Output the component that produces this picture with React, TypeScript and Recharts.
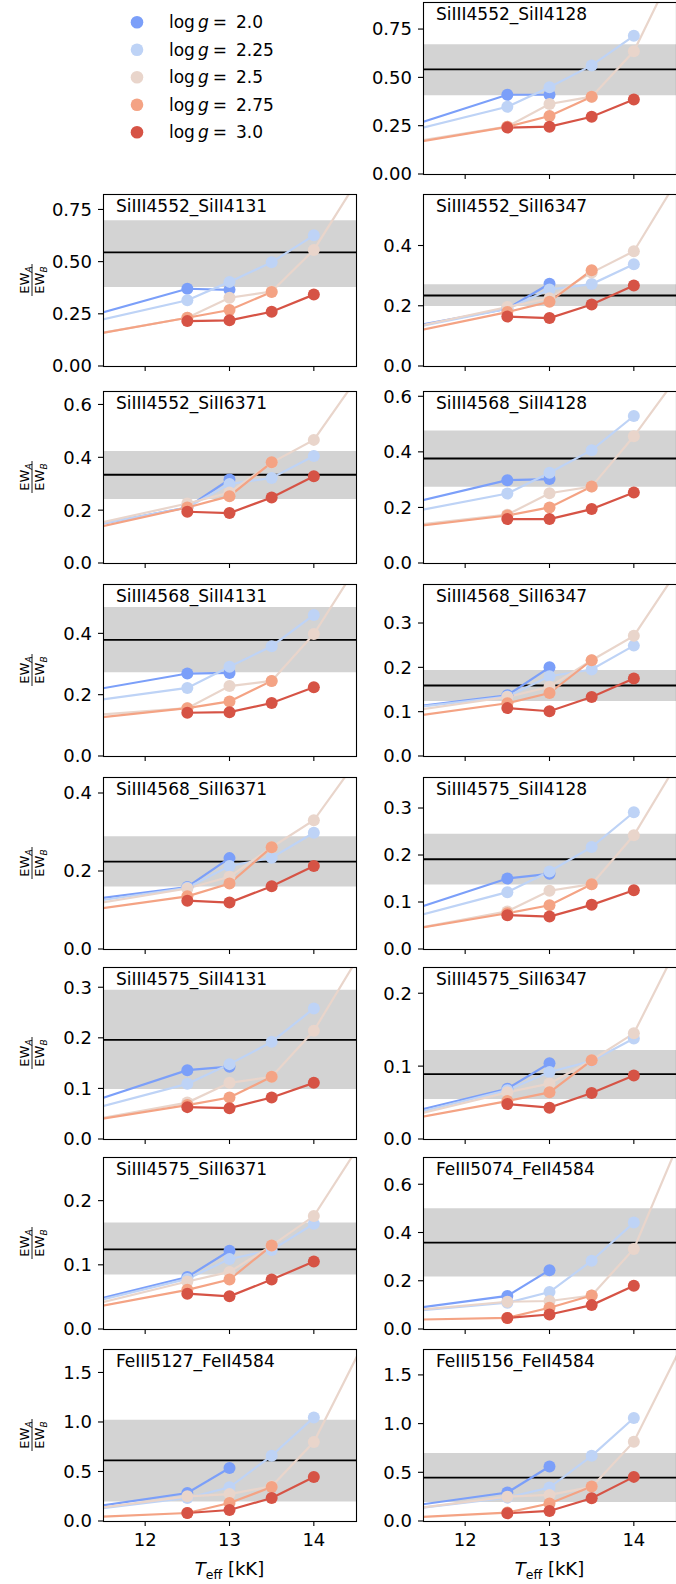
import React from 'react';
import { LineChart, Line, XAxis, YAxis, ReferenceArea, ReferenceLine } from 'recharts';

// line-ratio pairs, one panel each
const PAIRS = [
  'SiIII4552_SiII4128', 'SiIII4552_SiII4131', 'SiIII4552_SiII6347',
  'SiIII4552_SiII6371', 'SiIII4568_SiII4128', 'SiIII4568_SiII4131',
  'SiIII4568_SiII6347', 'SiIII4568_SiII6371', 'SiIII4575_SiII4128',
  'SiIII4575_SiII4131', 'SiIII4575_SiII6347', 'SiIII4575_SiII6371',
  'FeIII5074_FeII4584', 'FeIII5127_FeII4584', 'FeIII5156_FeII4584',
];

// observed ratio and its uncertainty band
const OBSERVED = [0.541, 0.544, 0.234, 0.334, 0.376, 0.379, 0.159, 0.224, 0.191, 0.196, 0.089, 0.124, 0.358, 0.612, 0.446];
const OBS_LOW = [0.407, 0.379, 0.199, 0.242, 0.274, 0.273, 0.124, 0.16, 0.137, 0.099, 0.055, 0.085, 0.218, 0.198, 0.196];
const OBS_HIGH = [0.672, 0.698, 0.271, 0.424, 0.477, 0.486, 0.194, 0.289, 0.245, 0.295, 0.122, 0.166, 0.501, 1.023, 0.697];

const Y_MAX = [0.89, 0.824, 0.571, 0.651, 0.619, 0.561, 0.388, 0.441, 0.366, 0.34, 0.236, 0.268, 0.713, 1.737, 1.766];
const Y_TICKS = [
  [0, 0.25, 0.5, 0.75], [0, 0.25, 0.5, 0.75], [0, 0.2, 0.4], [0, 0.2, 0.4, 0.6], [0, 0.2, 0.4, 0.6],
  [0, 0.2, 0.4], [0, 0.1, 0.2, 0.3], [0, 0.2, 0.4], [0, 0.1, 0.2, 0.3], [0, 0.1, 0.2, 0.3],
  [0, 0.1, 0.2], [0, 0.1, 0.2], [0, 0.2, 0.4, 0.6], [0, 0.5, 1, 1.5], [0, 0.5, 1, 1.5],
];
const X_TICKS = [12, 13, 14];

// model grid temperatures (kK) per log g
const T_20 = [11, 12.5, 13];
const T_225 = [11, 12.5, 13, 13.5, 14];
const T_25 = [11, 12.5, 13, 13.5, 14, 15];
const T_275 = [11, 12.5, 13, 13.5];
const T_30 = [12.5, 13, 13.5, 14];

// model ratios, one row per panel
const LOGG_20 = [
  [0.2, 0.41, 0.41], [0.2, 0.37, 0.365], [0.112, 0.19, 0.273], [0.12, 0.21, 0.316], [0.19, 0.298, 0.302],
  [0.197, 0.269, 0.271], [0.102, 0.137, 0.2], [0.117, 0.159, 0.233], [0.062, 0.15, 0.16], [0.054, 0.136, 0.143],
  [0.027, 0.069, 0.104], [0.032, 0.081, 0.122], [0.068, 0.137, 0.244], [0.096, 0.283, 0.535], [0.112, 0.292, 0.56],
];
const LOGG_225 = [
  [0.186, 0.348, 0.449, 0.562, 0.715], [0.177, 0.315, 0.403, 0.497, 0.626], [0.106, 0.19, 0.254, 0.272, 0.338],
  [0.12, 0.21, 0.299, 0.322, 0.405], [0.163, 0.25, 0.325, 0.406, 0.529], [0.166, 0.222, 0.291, 0.358, 0.46],
  [0.101, 0.134, 0.18, 0.195, 0.249], [0.11, 0.157, 0.213, 0.234, 0.298], [0.05, 0.121, 0.165, 0.217, 0.291],
  [0.043, 0.109, 0.148, 0.192, 0.258], [0.024, 0.067, 0.092, 0.107, 0.138], [0.03, 0.078, 0.109, 0.123, 0.164],
  [0.063, 0.109, 0.153, 0.283, 0.441], [0.08, 0.232, 0.34, 0.659, 1.046], [0.085, 0.24, 0.343, 0.669, 1.057],
];
const LOGG_25 = [
  [0.14, 0.245, 0.362, 0.4, 0.635, 1.53], [0.125, 0.231, 0.327, 0.357, 0.556, 1.2], [0.106, 0.196, 0.225, 0.31, 0.381, 0.84],
  [0.12, 0.225, 0.267, 0.38, 0.466, 0.92], [0.123, 0.174, 0.251, 0.275, 0.456, 0.87], [0.126, 0.156, 0.228, 0.245, 0.398, 0.83],
  [0.092, 0.133, 0.156, 0.216, 0.271, 0.556], [0.102, 0.155, 0.185, 0.261, 0.33, 0.63], [0.03, 0.08, 0.124, 0.138, 0.242, 0.54],
  [0.027, 0.072, 0.111, 0.123, 0.214, 0.49], [0.022, 0.064, 0.076, 0.108, 0.145, 0.375], [0.026, 0.074, 0.089, 0.13, 0.176, 0.38],
  [0.065, 0.113, 0.116, 0.139, 0.332, 1.16], [0.083, 0.249, 0.272, 0.35, 0.797, 2.49], [0.085, 0.25, 0.268, 0.35, 0.814, 2.55],
];
const LOGG_275 = [
  [0.134, 0.244, 0.3, 0.4], [0.122, 0.231, 0.268, 0.355], [0.092, 0.179, 0.213, 0.318], [0.104, 0.21, 0.253, 0.381],
  [0.118, 0.171, 0.2, 0.275], [0.112, 0.156, 0.178, 0.245], [0.08, 0.119, 0.142, 0.216], [0.09, 0.135, 0.168, 0.261],
  [0.031, 0.076, 0.093, 0.138], [0.027, 0.067, 0.082, 0.123], [0.02, 0.052, 0.064, 0.108], [0.024, 0.061, 0.077, 0.13],
  [0.036, 0.046, 0.088, 0.139], [0.026, 0.081, 0.182, 0.343], [0.02, 0.086, 0.179, 0.354],
];
const LOGG_30 = [
  [0.24, 0.245, 0.296, 0.386], [0.215, 0.219, 0.26, 0.342], [0.164, 0.159, 0.204, 0.267], [0.194, 0.189, 0.248, 0.328],
  [0.158, 0.158, 0.194, 0.254], [0.141, 0.143, 0.173, 0.224], [0.108, 0.101, 0.133, 0.175], [0.124, 0.119, 0.161, 0.213],
  [0.072, 0.069, 0.094, 0.125], [0.063, 0.061, 0.082, 0.111], [0.048, 0.043, 0.063, 0.087], [0.055, 0.051, 0.077, 0.105],
  [0.046, 0.06, 0.099, 0.179], [0.081, 0.111, 0.232, 0.444], [0.079, 0.103, 0.233, 0.453],
];

const LOGG_LABELS = ['2.0', '2.25', '2.5', '2.75', '3.0'];
const COLORS = ['#7b9ff9', '#bed3f6', '#e9d5cb', '#f4a384', '#d65345'];

const SERIES = [
  { temps: T_20, values: LOGG_20 },
  { temps: T_225, values: LOGG_225 },
  { temps: T_25, values: LOGG_25 },
  { temps: T_275, values: LOGG_275 },
  { temps: T_30, values: LOGG_30 },
];

// layout
const FONT = 'DejaVu Sans';
const COL_LEFT = [103, 423];
const ROW_TOP = [2, 194, 391, 584, 777, 967, 1157, 1349];
const PLOT_W = 253;
const PLOT_H = 172;
const AXIS_W = 70;

const place = (idx: number) => {
  const row = Math.floor((idx + 1) / 2);
  const col = (idx + 1) % 2;
  return { row, col, left: COL_LEFT[col], top: ROW_TOP[row] };
};

function Panel({ idx }: { idx: number }) {
  const { row, left, top } = place(idx);
  const bottomRow = row === ROW_TOP.length - 1;
  const dec = idx < 2 ? 2 : 1;
  return (
    <div style={{ position: 'absolute', left: left - AXIS_W, top: top - 10 }}>
      <LineChart
        width={AXIS_W + PLOT_W + 10}
        height={10 + PLOT_H + 40}
        margin={{ top: 10, right: 10, bottom: 0, left: 0 }}
      >
        <XAxis
          type="number"
          dataKey="t"
          domain={[11.5, 14.5]}
          allowDataOverflow
          ticks={X_TICKS}
          height={40}
          axisLine={false}
          tickSize={5}
          tickMargin={7}
          tickLine={{ stroke: '#000', strokeWidth: 1.1 }}
          tick={{ fill: '#000', fontSize: 18, fontFamily: FONT }}
          tickFormatter={(v: number) => (bottomRow ? String(v) : '')}
        />
        <YAxis
          type="number"
          domain={[0, Y_MAX[idx]]}
          allowDataOverflow
          ticks={Y_TICKS[idx]}
          width={AXIS_W}
          axisLine={false}
          tickSize={5}
          tickMargin={6}
          tickLine={{ stroke: '#000', strokeWidth: 1.1 }}
          tick={{ fill: '#000', fontSize: 18, fontFamily: FONT }}
          tickFormatter={(v: number) => v.toFixed(dec)}
        />
        <ReferenceArea y1={OBS_LOW[idx]} y2={OBS_HIGH[idx]} fill="#d3d3d3" fillOpacity={1} stroke="none" />
        <ReferenceLine y={OBSERVED[idx]} stroke="#000" strokeWidth={1.8} />
        {SERIES.map((s, k) => (
          <Line
            key={k}
            data={s.temps.map((t, i) => ({ t, v: s.values[idx][i] }))}
            dataKey="v"
            stroke={COLORS[k]}
            strokeWidth={2.2}
            dot={{ r: 6, fill: COLORS[k], stroke: COLORS[k], strokeWidth: 0 }}
            isAnimationActive={false}
          />
        ))}
      </LineChart>
    </div>
  );
}

export default function App() {
  return (
    <div
      style={{
        position: 'absolute', left: 0, top: 0, width: 676, height: 1584,
        overflow: 'hidden', background: '#fff',
      }}
    >
      {PAIRS.map((_, i) => <Panel key={i} idx={i} />)}

      <svg
        width={676}
        height={1584}
        style={{ position: 'absolute', left: 0, top: 0, pointerEvents: 'none' }}
        fontFamily={FONT}
      >
        {/* frames and titles */}
        {PAIRS.map((name, i) => {
          const { col, left, top } = place(i);
          return (
            <g key={name}>
              <rect x={left + 0.5} y={top + 0.5} width={PLOT_W} height={PLOT_H} fill="none" stroke="#000" strokeWidth={1.1} />
              <text x={left + 13} y={top + 18} fontSize={17}>{name}</text>
              {col === 0 && (
                <g transform={`translate(32, ${top + PLOT_H / 2}) rotate(-90)`}>
                  <text x={0} y={-3.5} fontSize={13} textAnchor="middle">
                    EW<tspan fontSize={9} fontStyle="italic" dy={3}>A</tspan>
                  </text>
                  <line x1={-16} x2={16} y1={0} y2={0} stroke="#000" strokeWidth={0.9} />
                  <text x={0} y={12} fontSize={13} textAnchor="middle">
                    EW<tspan fontSize={9} fontStyle="italic" dy={3}>B</tspan>
                  </text>
                </g>
              )}
            </g>
          );
        })}

        {/* x labels */}
        {COL_LEFT.map((l) => (
          <text key={l} x={l + PLOT_W / 2} y={1575} fontSize={18} textAnchor="middle">
            <tspan fontStyle="italic">T</tspan>
            <tspan fontSize={12.5} dy={4}>eff</tspan>
            <tspan dy={-4}> [kK]</tspan>
          </text>
        ))}

        {/* legend */}
        {LOGG_LABELS.map((lab, k) => {
          const cy = 22.3 + k * 27.5;
          return (
            <g key={lab}>
              <circle cx={137} cy={cy} r={6.3} fill={COLORS[k]} />
              <text x={169} y={cy + 6} fontSize={17}>
                log<tspan dx={3} fontStyle="italic">g</tspan>
                <tspan dx={4}>=</tspan>
                <tspan dx={9}>{lab}</tspan>
              </text>
            </g>
          );
        })}
      </svg>
    </div>
  );
}
